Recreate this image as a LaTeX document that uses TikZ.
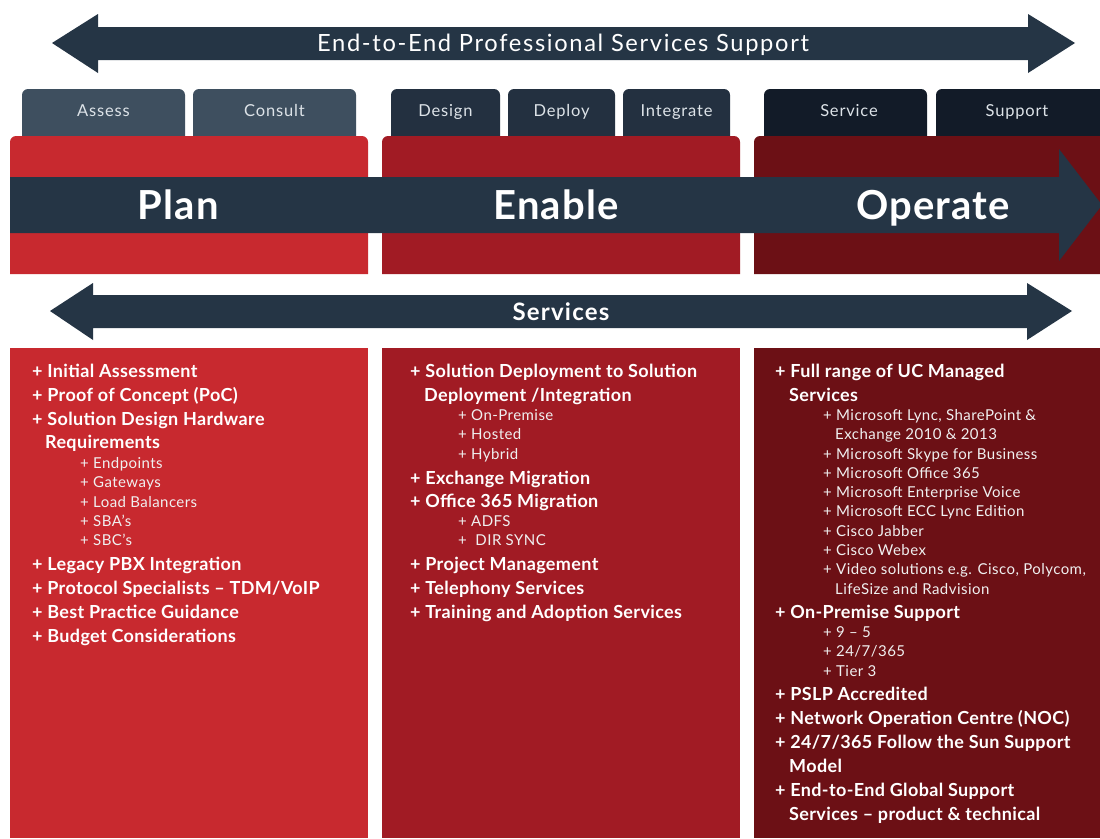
\documentclass[tikz,border=0pt]{standalone}
\usepackage{fontspec}
\setmainfont{Lato}
\newfontfamily\fmain[LetterSpace=2]{Lato}
\newfontfamily\fsub[LetterSpace=3]{Lato}
\newfontfamily\ftop[LetterSpace=7]{Lato}
\newfontfamily\ftab[LetterSpace=5]{Lato}
\newfontfamily\fphase[LetterSpace=3]{Lato}
\definecolor{navy}{HTML}{253545}
\definecolor{tabA}{HTML}{3E4F5F}
\definecolor{tabB}{HTML}{233040}
\definecolor{tabC}{HTML}{121B28}
\definecolor{redA}{HTML}{C8292F}
\definecolor{redB}{HTML}{A11B24}
\definecolor{redC}{HTML}{6C1015}
\definecolor{tabtxt}{HTML}{DDE3E8}
\begin{document}
\begin{tikzpicture}[x=1pt,y=-1pt,
  tabbox/.style={rounded corners=6pt},
  tablabel/.style={anchor=base,inner sep=0pt,text=tabtxt,font=\ftab\fontsize{16.5}{18}\selectfont},
  phase/.style={anchor=base,inner sep=0pt,text=white,font=\fphase\fontsize{40}{44}\selectfont\bfseries},
  mainit/.style={anchor=base west,inner sep=0pt,yshift=-6.5pt,text=white,font=\fmain\fontsize{18}{20}\selectfont\bfseries},
  subit/.style={anchor=base west,inner sep=0pt,yshift=-5.5pt,text=white!88!gray,font=\fsub\fontsize{15}{17}\selectfont}]
\useasboundingbox (0,0) rectangle (1100,838);
\fill[white] (0,0) rectangle (1100,838);
% top arrow
\fill[navy] (52,43) -- (98,14) -- (98,27) -- (1028,27) -- (1028,14) -- (1075,43) -- (1028,73) -- (1028,60) -- (98,60) -- (98,73) -- cycle;
\node[anchor=base,inner sep=0pt,text=white,font=\ftop\fontsize{23.7}{26}\selectfont] (toptxt) at (563,51.5) {End-to-End Professional Services Support};
% tabs
\fill[tabA,tabbox] (22,136) -- (22,89) -- (185,89) -- (185,136);
\fill[tabA,tabbox] (193,136) -- (193,89) -- (356,89) -- (356,136);
\fill[tabB,tabbox] (391,136) -- (391,89) -- (500,89) -- (500,136);
\fill[tabB,tabbox] (508,136) -- (508,89) -- (615,89) -- (615,136);
\fill[tabB,tabbox] (623,136) -- (623,89) -- (730,89) -- (730,136);
\fill[tabC,tabbox] (764,136) -- (764,89) -- (927,89) -- (927,136);
\fill[tabC,tabbox] (936,136) -- (936,89) -- (1106,89) -- (1106,136);
\node[tablabel] (t1) at (103.5,116.5) {Assess};
\node[tablabel] (t2) at (274.5,116.5) {Consult};
\node[tablabel] (t3) at (445.5,116.5) {Design};
\node[tablabel] (t4) at (561.5,116.5) {Deploy};
\node[tablabel] (t5) at (676.5,116.5) {Integrate};
\node[tablabel] (t6) at (849,116.5) {Service};
\node[tablabel] (t7) at (1017,116.5) {Support};
% phase boxes
\fill[redA,rounded corners=6pt] (10,274) -- (10,136) -- (368,136) -- (368,274);
\fill[redB,rounded corners=6pt] (382,274) -- (382,136) -- (740,136) -- (740,274);
\fill[redC,rounded corners=6pt] (754,274) -- (754,136) -- (1106,136) -- (1106,274);
\fill[redA] (10,160) rectangle (368,274);
\fill[redB] (382,160) rectangle (740,274);
\fill[redC] (754,160) rectangle (1100,274);
% band arrow
\fill[navy] (10,177) -- (1059,177) -- (1059,149) -- (1102,205) -- (1059,261) -- (1059,233) -- (10,233) -- cycle;
\node[phase] (plan) at (178,219.5) {Plan};
\node[phase] (enable) at (556,219.5) {Enable};
\node[phase] (operate) at (933,219.5) {Operate};
% services arrow
\fill[navy] (50,311) -- (93,283) -- (93,295) -- (1027,295) -- (1027,283) -- (1072,311) -- (1027,340) -- (1027,328) -- (93,328) -- (93,340) -- cycle;
\node[anchor=base,inner sep=0pt,text=white,font=\ftab\fontsize{24}{26}\selectfont\bfseries] (services) at (561,320) {Services};
% lower boxes
\fill[redA] (10,348) rectangle (368,838);
\fill[redB] (382,348) rectangle (740,838);
\fill[redC] (754,348) rectangle (1100,838);
% Plan list
\node[mainit] (p1) at (32,371) {+ Initial Assessment};
\node[mainit] (p2) at (32,395) {+ Proof of Concept (PoC)};
\node[mainit] (p3) at (32,419) {+ Solution Design Hardware};
\node[mainit] (p3b) at (45,442) {Requirements};
\node[subit] (p4) at (80,463) {+ Endpoints};
\node[subit] (p5) at (80,482) {+ Gateways};
\node[subit] (p6) at (80,502) {+ Load Balancers};
\node[subit] (p7) at (80,521) {+ SBA’s};
\node[subit] (p8) at (80,540) {+ SBC’s};
\node[mainit] (p9) at (32,564) {+ Legacy PBX Integration};
\node[mainit] (p10) at (32,588) {+ Protocol Specialists – TDM/VoIP};
\node[mainit] (p11) at (32,612) {+ Best Practice Guidance};
\node[mainit] (p12) at (32,636) {+ Budget Considerations};
% Enable list
\node[mainit] (e1) at (410,371) {+ Solution Deployment to Solution};
\node[mainit] (e1b) at (424,395) {Deployment /Integration};
\node[subit] (e2) at (458,415) {+ On-Premise};
\node[subit] (e3) at (458,434) {+ Hosted};
\node[subit] (e4) at (458,454) {+ Hybrid};
\node[mainit] (e5) at (410,478) {+ Exchange Migration};
\node[mainit] (e6) at (410,501) {+ Office 365 Migration};
\node[subit] (e7) at (458,521) {+ ADFS};
\node[subit] (e8) at (458,540) {+ \ DIR SYNC};
\node[mainit] (e9) at (410,564) {+ Project Management};
\node[mainit] (e10) at (410,588) {+ Telephony Services};
\node[mainit] (e11) at (410,612) {+ Training and Adoption Services};
% Operate list
\node[mainit] (o1) at (775,371) {+ Full range of UC Managed};
\node[mainit] (o1b) at (789,395) {Services};
\node[subit] (o2) at (823,415) {+ Microsoft Lync, SharePoint \&};
\node[subit] (o2b) at (835,434) {Exchange 2010 \& 2013};
\node[subit] (o3) at (823,454) {+ Microsoft Skype for Business};
\node[subit] (o4) at (823,473) {+ Microsoft Office 365};
\node[subit] (o5) at (823,492) {+ Microsoft Enterprise Voice};
\node[subit] (o6) at (823,511) {+ Microsoft ECC Lync Edition};
\node[subit] (o7) at (823,531) {+ Cisco Jabber};
\node[subit] (o8) at (823,550) {+ Cisco Webex};
\node[subit] (o9) at (823,569) {+ Video solutions e.g. Cisco, Polycom,};
\node[subit] (o9b) at (835,589) {LifeSize and Radvision};
\node[mainit] (o10) at (775,612) {+ On-Premise Support};
\node[subit] (o11) at (823,632) {+ 9 – 5};
\node[subit] (o12) at (823,651) {+ 24/7/365};
\node[subit] (o13) at (823,671) {+ Tier 3};
\node[mainit] (o14) at (775,694) {+ PSLP Accredited};
\node[mainit] (o15) at (775,718) {+ Network Operation Centre (NOC)};
\node[mainit] (o16) at (775,742) {+ 24/7/365 Follow the Sun Support};
\node[mainit] (o16b) at (789,766) {Model};
\node[mainit] (o17) at (775,790) {+ End-to-End Global Support};
\node[mainit] (o17b) at (789,814) {Services – product \& technical};
\end{tikzpicture}
\end{document}
